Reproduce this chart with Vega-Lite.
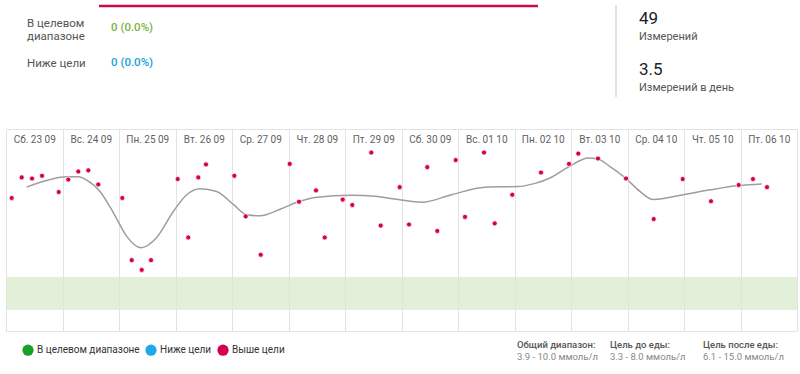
{
  "$schema": "https://vega.github.io/schema/vega-lite/v6.json",
  "padding": {"left": 6, "right": 3, "top": 0, "bottom": 0},
  "background": "white",
  "spacing": 0,
  "config": {
    "font": "Roboto",
    "view": {"stroke": null},
    "concat": {"spacing": 0},
    "locale": {
      "time": {
        "dateTime": "%A, %e %B %Y г. %X",
        "date": "%d.%m.%Y",
        "time": "%H:%M:%S",
        "periods": ["AM", "PM"],
        "days": ["воскресенье", "понедельник", "вторник", "среда", "четверг", "пятница", "суббота"],
        "shortDays": ["Вс", "Пн", "Вт", "Ср", "Чт", "Пт", "Сб"],
        "months": ["январь", "февраль", "март", "апрель", "май", "июнь", "июль", "август", "сентябрь", "октябрь", "ноябрь", "декабрь"],
        "shortMonths": ["янв", "фев", "мар", "апр", "май", "июн", "июл", "авг", "сен", "окт", "ноя", "дек"]
      }
    }
  },
  "datasets": {
    "summary": [
      {"status": "Выше цели", "label": "Выше цели", "count": 49, "text": "49 (100.0%)"},
      {"status": "В целевом диапазоне", "label": "В целевом\nдиапазоне", "count": 0, "text": "0 (0.0%)"},
      {"status": "Ниже цели", "label": "Ниже цели", "count": 0, "text": "0 (0.0%)"}
    ],
    "stats": [
      {"stat": "Измерений", "value": "49"},
      {"stat": "Измерений в день", "value": "3.5"}
    ],
    "targets": [
      {"target": "Общий диапазон:", "range": "3.9 - 10.0 ммоль/л", "low": 3.9, "high": 10.0},
      {"target": "Цель до еды:", "range": "3.3 - 8.0 ммоль/л", "low": 3.3, "high": 8.0},
      {"target": "Цель после еды:", "range": "6.1 - 15.0 ммоль/л", "low": 6.1, "high": 15.0}
    ],
    "readings": [
      {"time": "2023-09-23T02:25:00Z", "value": 24.6, "status": "Выше цели"},
      {"time": "2023-09-23T06:40:00Z", "value": 28.4, "status": "Выше цели"},
      {"time": "2023-09-23T11:03:00Z", "value": 28.2, "status": "Выше цели"},
      {"time": "2023-09-23T15:18:00Z", "value": 28.7, "status": "Выше цели"},
      {"time": "2023-09-23T22:23:00Z", "value": 25.7, "status": "Выше цели"},
      {"time": "2023-09-24T02:28:00Z", "value": 28.0, "status": "Выше цели"},
      {"time": "2023-09-24T06:43:00Z", "value": 29.5, "status": "Выше цели"},
      {"time": "2023-09-24T10:58:00Z", "value": 29.7, "status": "Выше цели"},
      {"time": "2023-09-24T15:12:00Z", "value": 27.1, "status": "Выше цели"},
      {"time": "2023-09-25T01:24:00Z", "value": 24.6, "status": "Выше цели"},
      {"time": "2023-09-25T05:24:00Z", "value": 13.1, "status": "Выше цели"},
      {"time": "2023-09-25T09:39:00Z", "value": 11.3, "status": "Выше цели"},
      {"time": "2023-09-25T13:36:00Z", "value": 13.1, "status": "Выше цели"},
      {"time": "2023-09-26T00:56:00Z", "value": 28.1, "status": "Выше цели"},
      {"time": "2023-09-26T05:26:00Z", "value": 17.3, "status": "Выше цели"},
      {"time": "2023-09-26T09:41:00Z", "value": 28.4, "status": "Выше цели"},
      {"time": "2023-09-26T12:57:00Z", "value": 30.8, "status": "Выше цели"},
      {"time": "2023-09-27T00:59:00Z", "value": 28.7, "status": "Выше цели"},
      {"time": "2023-09-27T05:49:00Z", "value": 21.2, "status": "Выше цели"},
      {"time": "2023-09-27T12:12:00Z", "value": 14.1, "status": "Выше цели"},
      {"time": "2023-09-28T00:31:00Z", "value": 30.9, "status": "Выше цели"},
      {"time": "2023-09-28T04:28:00Z", "value": 23.9, "status": "Выше цели"},
      {"time": "2023-09-28T11:41:00Z", "value": 26.0, "status": "Выше цели"},
      {"time": "2023-09-28T15:23:00Z", "value": 17.3, "status": "Выше цели"},
      {"time": "2023-09-28T23:01:00Z", "value": 24.3, "status": "Выше цели"},
      {"time": "2023-09-29T03:06:00Z", "value": 23.3, "status": "Выше цели"},
      {"time": "2023-09-29T11:10:00Z", "value": 33.0, "status": "Выше цели"},
      {"time": "2023-09-29T15:10:00Z", "value": 19.5, "status": "Выше цели"},
      {"time": "2023-09-29T23:14:00Z", "value": 26.6, "status": "Выше цели"},
      {"time": "2023-09-30T03:11:00Z", "value": 19.7, "status": "Выше цели"},
      {"time": "2023-09-30T10:57:00Z", "value": 30.3, "status": "Выше цели"},
      {"time": "2023-09-30T15:12:00Z", "value": 18.5, "status": "Выше цели"},
      {"time": "2023-09-30T23:01:00Z", "value": 31.6, "status": "Выше цели"},
      {"time": "2023-10-01T02:58:00Z", "value": 21.1, "status": "Выше цели"},
      {"time": "2023-10-01T11:03:00Z", "value": 33.0, "status": "Выше цели"},
      {"time": "2023-10-01T15:35:00Z", "value": 19.9, "status": "Выше цели"},
      {"time": "2023-10-01T23:04:00Z", "value": 25.2, "status": "Выше цели"},
      {"time": "2023-10-02T11:15:00Z", "value": 29.3, "status": "Выше цели"},
      {"time": "2023-10-02T23:09:00Z", "value": 30.9, "status": "Выше цели"},
      {"time": "2023-10-03T03:06:00Z", "value": 32.8, "status": "Выше цели"},
      {"time": "2023-10-03T11:28:00Z", "value": 31.9, "status": "Выше цели"},
      {"time": "2023-10-03T23:22:00Z", "value": 28.2, "status": "Выше цели"},
      {"time": "2023-10-04T11:08:00Z", "value": 20.7, "status": "Выше цели"},
      {"time": "2023-10-04T23:27:00Z", "value": 28.1, "status": "Выше цели"},
      {"time": "2023-10-05T11:28:00Z", "value": 24.0, "status": "Выше цели"},
      {"time": "2023-10-05T23:14:00Z", "value": 27.0, "status": "Выше цели"},
      {"time": "2023-10-06T05:18:00Z", "value": 28.1, "status": "Выше цели"},
      {"time": "2023-10-06T11:15:00Z", "value": 26.6, "status": "Выше цели"}
    ],
    "trend": [
      {"time": "2023-09-23T08:47:00Z", "value": 26.6},
      {"time": "2023-09-23T18:41:00Z", "value": 28.0},
      {"time": "2023-09-24T01:47:00Z", "value": 28.5},
      {"time": "2023-09-24T06:43:00Z", "value": 28.5},
      {"time": "2023-09-24T10:16:00Z", "value": 27.9},
      {"time": "2023-09-24T15:56:00Z", "value": 25.8},
      {"time": "2023-09-24T21:34:00Z", "value": 21.9},
      {"time": "2023-09-25T03:16:00Z", "value": 17.5},
      {"time": "2023-09-25T09:13:00Z", "value": 15.4},
      {"time": "2023-09-25T16:01:00Z", "value": 17.3},
      {"time": "2023-09-25T23:04:00Z", "value": 22.1},
      {"time": "2023-09-26T04:46:00Z", "value": 25.2},
      {"time": "2023-09-26T10:24:00Z", "value": 26.3},
      {"time": "2023-09-26T17:30:00Z", "value": 25.8},
      {"time": "2023-09-27T00:33:00Z", "value": 23.4},
      {"time": "2023-09-27T06:15:00Z", "value": 21.5},
      {"time": "2023-09-27T11:54:00Z", "value": 21.3},
      {"time": "2023-09-27T20:23:00Z", "value": 22.5},
      {"time": "2023-09-28T04:10:00Z", "value": 23.9},
      {"time": "2023-09-28T11:15:00Z", "value": 24.7},
      {"time": "2023-09-29T02:51:00Z", "value": 25.1},
      {"time": "2023-09-29T12:45:00Z", "value": 24.9},
      {"time": "2023-09-29T22:38:00Z", "value": 24.3},
      {"time": "2023-09-30T08:35:00Z", "value": 23.8},
      {"time": "2023-09-30T21:19:00Z", "value": 25.2},
      {"time": "2023-10-01T11:28:00Z", "value": 26.6},
      {"time": "2023-10-02T01:37:00Z", "value": 26.7},
      {"time": "2023-10-02T08:42:00Z", "value": 27.3},
      {"time": "2023-10-02T15:04:00Z", "value": 28.3},
      {"time": "2023-10-02T23:09:00Z", "value": 30.4},
      {"time": "2023-10-03T07:21:00Z", "value": 32.0},
      {"time": "2023-10-03T11:28:00Z", "value": 31.8},
      {"time": "2023-10-03T16:34:00Z", "value": 30.4},
      {"time": "2023-10-03T23:22:00Z", "value": 28.2},
      {"time": "2023-10-04T05:18:00Z", "value": 25.8},
      {"time": "2023-10-04T10:58:00Z", "value": 24.3},
      {"time": "2023-10-04T23:42:00Z", "value": 25.2},
      {"time": "2023-10-05T11:03:00Z", "value": 26.1},
      {"time": "2023-10-05T23:14:00Z", "value": 26.9},
      {"time": "2023-10-06T09:00:00Z", "value": 27.2}
    ]
  },
  "vconcat": [
    {
      "width": 791,
      "height": 129,
      "resolve": {"scale": {"x": "independent", "y": "independent"}},
      "layer": [
        {
          "data": {"name": "summary"},
          "mark": {"type": "rule", "strokeWidth": 2.5, "color": "#cf0a47"},
          "encoding": {
            "x": {"field": "count", "type": "quantitative", "scale": {"domain": [0, 49], "range": [93, 532]}, "axis": null},
            "x2": {"datum": 0},
            "y": {"field": "status", "type": "nominal", "scale": {"type": "point", "padding": 0, "domain": ["Выше цели", "В целевом диапазоне", "Ниже цели"], "range": [6, 76]}, "axis": null}
          }
        },
        {
          "data": {"name": "summary"},
          "transform": [{"filter": "datum.status !== 'Выше цели'"}],
          "mark": {"type": "text", "align": "left", "baseline": "middle", "fontSize": 11.5, "lineBreak": "\n", "lineHeight": 13, "color": "#555555"},
          "encoding": {
            "x": {"datum": "label", "type": "nominal", "scale": {"type": "point", "padding": 0, "domain": ["label", "text"], "range": [21, 105]}, "axis": null},
            "y": {"field": "status", "type": "nominal", "scale": {"type": "point", "padding": 0, "domain": ["В целевом диапазоне", "Ниже цели"], "range": [24, 63.5]}, "axis": null},
            "text": {"field": "label", "type": "nominal"}
          }
        },
        {
          "data": {"name": "summary"},
          "transform": [{"filter": "datum.status !== 'Выше цели'"}],
          "mark": {"type": "text", "align": "left", "baseline": "middle", "fontSize": 11.5, "fontWeight": 500},
          "encoding": {
            "x": {"datum": "text", "type": "nominal", "scale": {"type": "point", "padding": 0, "domain": ["label", "text"], "range": [21, 105]}, "axis": null},
            "y": {"field": "status", "type": "nominal", "scale": {"type": "point", "padding": 0, "domain": ["В целевом диапазоне", "Ниже цели"], "range": [27.5, 63]}, "axis": null},
            "text": {"field": "text", "type": "nominal"},
            "color": {
              "condition": [
                {"test": "datum.status === 'В целевом диапазоне'", "value": "#7cb342"},
                {"test": "datum.status === 'Ниже цели'", "value": "#1a9fd9"}
              ],
              "value": "#d5004f"
            }
          }
        },
        {
          "data": {"name": "stats"},
          "mark": {"type": "text", "align": "left", "baseline": "middle", "dy": -9, "fontSize": 17, "color": "#222222"},
          "encoding": {
            "x": {"datum": "stats", "type": "nominal", "scale": {"type": "point", "padding": 0, "domain": ["divider", "stats"], "range": [610, 633]}, "axis": null},
            "y": {"field": "stat", "type": "nominal", "scale": {"type": "point", "padding": 0, "domain": ["Измерений", "Измерений в день"], "range": [27.5, 79]}, "axis": null},
            "text": {"field": "value", "type": "nominal"}
          }
        },
        {
          "data": {"name": "stats"},
          "mark": {"type": "text", "align": "left", "baseline": "middle", "dy": 9, "fontSize": 11, "color": "#555555"},
          "encoding": {
            "x": {"datum": "stats", "type": "nominal", "scale": {"type": "point", "padding": 0, "domain": ["divider", "stats"], "range": [610, 633]}, "axis": null},
            "y": {"field": "stat", "type": "nominal", "scale": {"type": "point", "padding": 0, "domain": ["Измерений", "Измерений в день"], "range": [27.5, 79]}, "axis": null},
            "text": {"field": "stat", "type": "nominal"}
          }
        },
        {
          "data": {"name": "stats"},
          "transform": [{"filter": "datum.stat === 'Измерений'"}],
          "mark": {"type": "rule", "color": "#e2e2e2", "strokeWidth": 2},
          "encoding": {
            "x": {"datum": "divider", "type": "nominal", "scale": {"type": "point", "padding": 0, "domain": ["divider", "stats"], "range": [610, 633]}, "axis": null},
            "y": {"datum": 0, "type": "quantitative", "scale": {"domain": [0, 1], "range": [5, 97]}, "axis": null},
            "y2": {"datum": 1}
          }
        }
      ]
    },
    {
      "width": 791,
      "height": 202,
      "resolve": {"axis": {"x": "independent", "y": "independent"}},
      "layer": [
        {
          "data": {"name": "targets"},
          "transform": [{"filter": "datum.target === 'Общий диапазон:'"}],
          "mark": {"type": "rect", "color": "#d8ebcc", "opacity": 0.75},
          "encoding": {
            "x": {"datum": {"year": 2023, "month": 9, "date": 23, "utc": true}, "type": "temporal", "axis": null},
            "x2": {"datum": {"year": 2023, "month": 10, "date": 7, "utc": true}},
            "y": {"field": "low", "type": "quantitative", "axis": null},
            "y2": {"field": "high"}
          }
        },
        {
          "data": {"name": "trend"},
          "mark": {"type": "line", "interpolate": "monotone", "color": "#9e9e9e", "strokeWidth": 1.5},
          "encoding": {
            "x": {"field": "time", "type": "temporal", "axis": null},
            "y": {
              "field": "value",
              "type": "quantitative",
              "axis": {"title": null, "grid": true, "gridColor": "#e3e3e3", "labels": false, "ticks": false, "domain": false, "values": [0, 37.35]}
            }
          }
        },
        {
          "data": {"name": "readings"},
          "mark": {"type": "circle", "size": 26, "opacity": 1, "stroke": "white", "strokeWidth": 0.8},
          "encoding": {
            "x": {
              "field": "time",
              "type": "temporal",
              "scale": {"type": "utc", "nice": false, "domain": [{"year": 2023, "month": 9, "date": 23, "utc": true}, {"year": 2023, "month": 10, "date": 7, "utc": true}]},
              "axis": {
                "orient": "top",
                "title": null,
                "grid": true,
                "gridColor": "#e3e3e3",
                "ticks": false,
                "domain": false,
                "tickCount": {"interval": "day", "step": 1},
                "format": "%a. %d %m",
                "labelExpr": "datum.value >= 1696636800000 ? '' : datum.label",
                "labelOffset": 28.25,
                "labelPadding": -10,
                "labelBaseline": "middle",
                "labelAlign": "center",
                "labelFontSize": 10,
                "labelColor": "#5f5f5f",
                "labelFlush": false,
                "labelOverlap": false,
                "labelBound": false
              }
            },
            "y": {"field": "value", "type": "quantitative", "scale": {"domain": [0, 37.35], "nice": false}, "axis": null},
            "color": {
              "field": "status",
              "type": "nominal",
              "scale": {"domain": ["В целевом диапазоне", "Ниже цели", "Выше цели"], "range": ["#1a9f29", "#1ea8ec", "#d5004f"]},
              "legend": {
                "title": null,
                "orient": "none",
                "legendX": 16,
                "legendY": 344,
                "direction": "horizontal",
                "symbolType": "circle",
                "symbolSize": 125,
                "symbolStrokeWidth": 0,
                "symbolOpacity": 1,
                "labelFontSize": 10,
                "labelColor": "#333333",
                "labelOffset": 3,
                "columnPadding": 5
              }
            }
          }
        }
      ]
    },
    {
      "width": 791,
      "height": 43,
      "data": {"name": "targets"},
      "encoding": {
        "x": {"field": "target", "type": "nominal", "scale": {"type": "point", "padding": 0, "domain": ["Общий диапазон:", "Цель до еды:", "Цель после еды:"], "range": [511, 697]}, "axis": null}
      },
      "layer": [
        {
          "mark": {"type": "text", "align": "left", "baseline": "middle", "dy": -7.5, "fontSize": 9.5, "fontWeight": 500, "color": "#555555", "font": "Liberation Sans Narrow, Roboto"},
          "encoding": {"text": {"field": "target", "type": "nominal"}}
        },
        {
          "mark": {"type": "text", "align": "left", "baseline": "middle", "dy": 4.5, "fontSize": 9.5, "color": "#888888", "font": "Liberation Sans Narrow, Roboto"},
          "encoding": {"text": {"field": "range", "type": "nominal"}}
        }
      ]
    }
  ]
}
